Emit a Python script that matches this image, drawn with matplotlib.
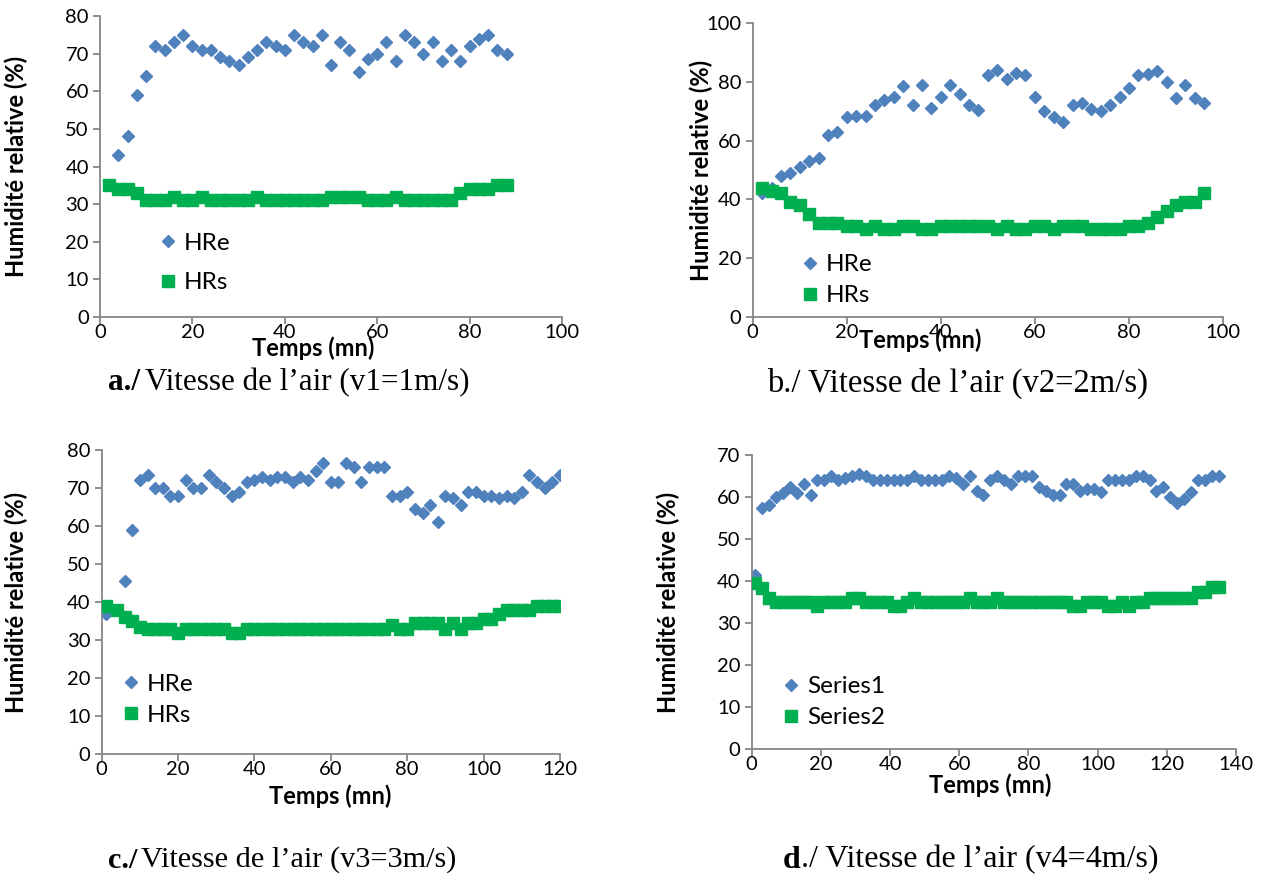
import numpy as np
import matplotlib
matplotlib.use("Agg")
import matplotlib.pyplot as plt

# ---- data ----
# panel a (v1 = 1 m/s)
t_a = list(range(2, 90, 2))
hre_a = [35, 43, 48, 59, 64, 72, 71, 73, 75, 72, 71, 71, 69, 68, 67, 69, 71, 73, 72, 71,
         75, 73, 72, 75, 67, 73, 71, 65, 68.5, 70, 73, 68, 75, 73, 70, 73, 68, 71, 68, 72,
         74, 75, 71, 70]
hrs_a = [35, 34, 34, 33, 31, 31, 31, 32, 31, 31, 32, 31, 31, 31, 31, 31, 32, 31, 31, 31,
         31, 31, 31, 31, 32, 32, 32, 32, 31, 31, 31, 32, 31, 31, 31, 31, 31, 31, 33, 34,
         34, 34, 35, 35]

# panel b (v2 = 2 m/s)
t_b = list(range(2, 98, 2))
hre_b = [42, 44, 48, 49, 51, 53, 54, 62, 63, 68, 68.5, 68.5, 72, 74, 75, 78.5, 72, 79, 71, 75,
         79, 76, 72, 70.5, 82.5, 84, 81, 83, 82.5, 75, 70, 68, 66.5, 72, 73, 70.8, 70, 72,
         75, 78, 82.3, 82.7, 83.8, 80, 74.7, 79, 74.7, 72.7]
hrs_b = [44, 43, 42, 39, 38, 35, 32, 32, 32, 31, 31, 30, 31, 30, 30, 31, 31, 30, 30, 31,
         31, 31, 31, 31, 31, 30, 31, 30, 30, 31, 31, 30, 31, 31, 31, 30, 30, 30, 30, 31,
         31, 32, 34, 36, 38, 39, 39, 42]

# panel c (v3 = 3 m/s)
t_c = [1] + list(range(4, 122, 2))
hre_c = [37, 38, 45.5, 59, 72, 73.5, 70, 70, 68, 68, 72, 70, 70, 73.5, 71.5, 70, 68, 69, 71.5, 72,
         73, 72, 73, 73, 71.5, 73, 72, 74.5, 76.5, 71.5, 71.5, 76.5, 75.5, 71.5, 75.5, 75.5, 75.5,
         68, 68, 69, 64.5, 63.5, 65.5, 61, 68, 67.5, 65.5, 69, 69, 68, 68, 67.5, 68, 67.5, 69,
         73.5, 71.5, 70, 71.5, 73.5]
hrs_c = [39, 38, 36, 35, 33.5, 33, 33, 33, 33, 32, 33, 33, 33, 33, 33, 33, 32, 32, 33, 33,
         33, 33, 33, 33, 33, 33, 33, 33, 33, 33, 33, 33, 33, 33, 33, 33, 33, 34, 33, 33,
         34.5, 34.5, 34.5, 34.5, 33, 34.5, 33, 34.5, 34.5, 35.5, 35.5, 37, 38, 38, 38, 38, 39, 39,
         39, 39]

# panel d (v4 = 4 m/s)
t_d = list(range(1, 137, 2))
hre_d = [41.5, 57.5, 58, 60, 61, 62.5, 61, 63, 60.5, 64, 64, 65, 64, 64.5, 65, 65.5, 65, 64, 64, 64,
         64, 64, 64, 65, 64, 64, 64, 64, 65, 64.5, 63, 65, 61.5, 60.5, 64, 65, 64, 63, 65, 65,
         65, 62.5, 61.5, 60.5, 60.5, 63, 63, 61.5, 62, 62, 61.3, 64, 64, 64, 64, 65, 65, 64,
         61.5, 62.5, 60, 58.5, 59.5, 61.3, 64, 64, 65, 65]
hrs_d = [39.5, 38.3, 36, 35, 35, 35, 35, 35, 35, 34, 35, 35, 35, 35, 36, 36, 35, 35, 35, 35,
         34, 34, 35, 36, 35, 35, 35, 35, 35, 35, 35, 36, 35, 35, 35, 36, 35, 35, 35, 35,
         35, 35, 35, 35, 35, 35, 34, 34, 35, 35, 35, 34, 34, 35, 34, 35, 35, 36, 36, 36,
         36, 36, 36, 36, 37.5, 37.5, 38.5, 38.5]

labels_ab = ["HRe", "HRs"]
labels_d = ["Series1", "Series2"]

BLUE = "#4F81BD"
GREEN = "#00B050"
AXC = "#868686"

plt.rcParams["font.family"] = ["Lato", "DejaVu Sans"]

fig = plt.figure(figsize=(12.75, 8.84), dpi=100)
W, H = 1275.0, 884.0


def make_ax(x0, x1, ytop, ybot):
    return fig.add_axes([x0 / W, 1 - ybot / H, (x1 - x0) / W, (ybot - ytop) / H])


def style(ax, xmax, xstep, ymax, ystep):
    ax.set_xlim(0, xmax)
    ax.set_ylim(0, ymax)
    ax.set_xticks(np.arange(0, xmax + 1, xstep))
    ax.set_yticks(np.arange(0, ymax + 1, ystep))
    for s in ["top", "right"]:
        ax.spines[s].set_visible(False)
    for s in ["left", "bottom"]:
        ax.spines[s].set_color(AXC)
        ax.spines[s].set_linewidth(1.3)
    ax.tick_params(direction="out", length=5, width=1.3, color=AXC, labelsize=14.5)
    ax.tick_params(axis="x", pad=0)
    ax.tick_params(axis="y", pad=3)
    ax.set_ylabel("Humidité relative (%)", fontsize=17, fontweight="bold")
    ax.set_xlabel("Temps (mn)", fontsize=17, fontweight="bold", va="center")


def plot_pair(ax, t, e, s, labels, leg_anchor, spacing):
    ax.plot(t, e, ls="none", marker="D", ms=6.4, color=BLUE, mec=BLUE, label=labels[0], zorder=2)
    ax.plot(t, s, ls="none", marker="s", ms=8.7, color=GREEN, mec=GREEN, label=labels[1], zorder=3)
    ax.legend(loc="center left", bbox_to_anchor=leg_anchor, frameon=False, fontsize=17.5,
              handlelength=0.7, handletextpad=0.3, labelspacing=spacing, borderpad=0,
              borderaxespad=0)


# a
ax_a = make_ax(100, 562, 16, 317)
plot_pair(ax_a, t_a, hre_a, hrs_a, labels_ab, (0.129, 0.18), 0.76)
style(ax_a, 100, 20, 80, 10)
ax_a.yaxis.set_label_coords(-0.156, 0.5)
ax_a.xaxis.set_label_coords(0.461, -0.103)

# b
ax_b = make_ax(752.7, 1223, 23.3, 316.7)
plot_pair(ax_b, t_b, hre_b, hrs_b, labels_ab, (0.104, 0.125), 0.41)
style(ax_b, 100, 20, 100, 20)
ax_b.yaxis.set_label_coords(-0.084, 0.5)
ax_b.xaxis.set_label_coords(0.356, -0.079)

# c
ax_c = make_ax(101.7, 560, 450, 754.3)
plot_pair(ax_c, t_c, hre_c, hrs_c, labels_ab, (0.045, 0.18), 0.41)
style(ax_c, 120, 20, 80, 10)
ax_c.yaxis.set_label_coords(-0.161, 0.5)
ax_c.xaxis.set_label_coords(0.498, -0.137)

# d
ax_d = make_ax(751.7, 1236, 455, 749.3)
plot_pair(ax_d, t_d, hre_d, hrs_d, labels_d, (0.064, 0.16), 0.41)
style(ax_d, 140, 20, 70, 10)
ax_d.yaxis.set_label_coords(-0.148, 0.5)
ax_d.xaxis.set_label_coords(0.492, -0.121)

# captions: bold part first, plain part placed right after it
serif = ["Liberation Serif", "DejaVu Serif"]
renderer = fig.canvas.get_renderer()


def caption(x, y, bold, rest, size, gap):
    kw = dict(fontsize=size, family=serif, va="center", ha="left")
    t1 = fig.text(x / W, 1 - y / H, bold, fontweight="bold", **kw)
    x1 = t1.get_window_extent(renderer).x1
    fig.text((x1 + gap) / W, 1 - y / H, rest, **kw)


caption(108, 383, "a./", "Vitesse de l\u2019air (v1=1m/s)", 22.4, 5)
fig.text(958 / W, 1 - 383 / H, "b./ Vitesse de l\u2019air (v2=2m/s)", fontsize=23.5,
         family=serif, va="center", ha="center")
caption(108, 860, "c./", "Vitesse de l\u2019air (v3=3m/s)", 21.8, 4)
caption(783, 860, "d", "./ Vitesse de l\u2019air (v4=4m/s)", 23, 0)

fig.savefig("out.png", dpi=100)
